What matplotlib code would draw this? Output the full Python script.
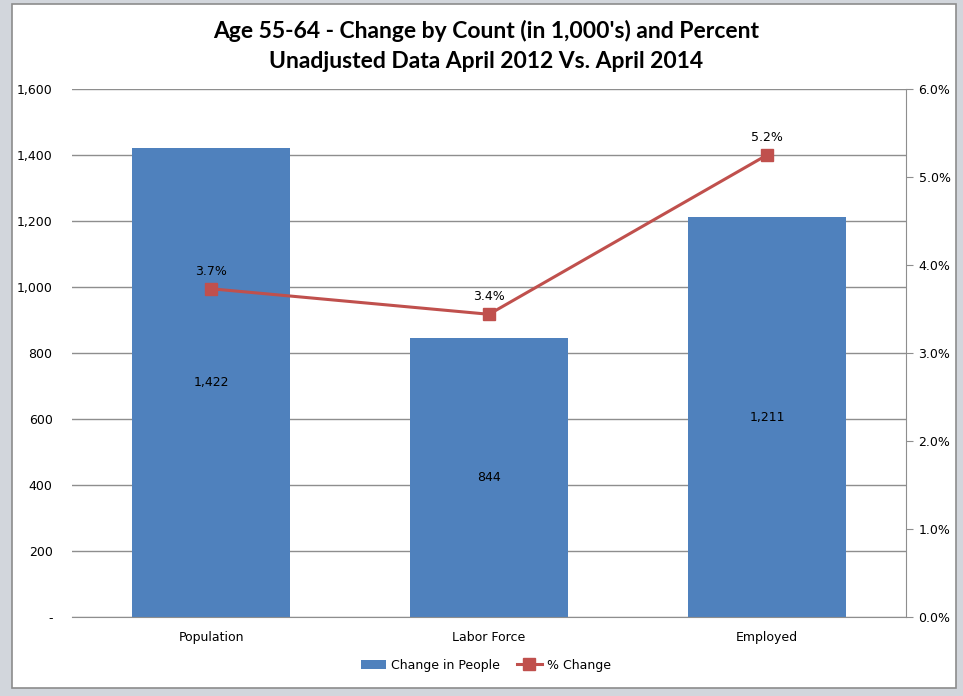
import matplotlib.pyplot as plt
from matplotlib.patches import Rectangle
from matplotlib.ticker import FuncFormatter, MultipleLocator
import numpy as np

categories = ["Population", "Labor Force", "Employed"]
change_people = [1422, 844, 1211]
pct_change = [3.73, 3.44, 5.25]
pct_labels = ["3.7%", "3.4%", "5.2%"]

blue = "#4F81BD"
red = "#C0504D"
grid = "#8E8E8E"

fig = plt.figure(figsize=(9.63, 6.96), dpi=100)
fig.patch.set_facecolor("#D2D6DC")
fig.patches.append(Rectangle((12/963, 1-688/696), (956-12)/963, (688-4)/696,
                             transform=fig.transFigure, facecolor="white",
                             edgecolor="#8C8C8C", lw=1.2, zorder=-5))

ax = fig.add_axes([72/963, 1-617/696, (906-72)/963, (617-89)/696])
ax.set_facecolor("none")
x = np.arange(len(categories))
bars = ax.bar(x, change_people, width=0.57, color=blue, zorder=2)
ax.set_xlim(-0.5, 2.5)
ax.set_ylim(0, 1600)
ax.yaxis.set_major_locator(MultipleLocator(200))
ax.yaxis.set_major_formatter(FuncFormatter(lambda v, p: "-" if v == 0 else f"{int(v):,}"))
ax.grid(axis="y", color=grid, lw=1, zorder=0)
ax.set_axisbelow(True)
for s in ["left", "top", "right"]:
    ax.spines[s].set_visible(False)
ax.spines["bottom"].set_color(grid)
ax.tick_params(axis="y", length=0, pad=14, labelsize=9)
ax.tick_params(axis="x", length=0, pad=10, labelsize=9)
ax.set_xticks(x)
ax.set_xticklabels(categories)
for b, v in zip(bars, change_people):
    ax.text(b.get_x() + b.get_width()/2, v/2, f"{v:,}", ha="center", va="center", fontsize=9)

ax2 = ax.twinx()
ax2.set_ylim(0, 6)
ax2.yaxis.set_major_locator(MultipleLocator(1))
ax2.yaxis.set_major_formatter(FuncFormatter(lambda v, p: f"{v:.1f}%"))
for s in ["left", "top", "bottom"]:
    ax2.spines[s].set_visible(False)
ax2.spines["right"].set_color(grid)
ax2.tick_params(axis="y", length=5, color=grid, pad=4, labelsize=9)
line, = ax2.plot(x, pct_change, color=red, lw=2.2, marker="s", markersize=8, zorder=3)
for xi, v, lab in zip(x, pct_change, pct_labels):
    ax2.annotate(lab, (xi, v), xytext=(0, 8), textcoords="offset points",
                 ha="center", va="bottom", fontsize=9)

title_font = ["Liberation Sans Narrow", "Lato", "DejaVu Sans"]
fig.text(486/963, 1-31/696, "Age 55-64 - Change by Count (in 1,000's) and Percent",
         ha="center", va="center", fontsize=16.5, fontweight="bold", family=title_font)
fig.text(486/963, 1-61/696, "Unadjusted Data April 2012 Vs. April 2014",
         ha="center", va="center", fontsize=16.5, fontweight="bold", family=title_font)

fig.legend([bars, line], ["Change in People", "% Change"], loc="center",
           bbox_to_anchor=(486/963, 1-665/696), ncol=2, frameon=False,
           fontsize=9, handlelength=2.0, columnspacing=1.3, handletextpad=0.4)

plt.savefig("out.png", dpi=100, facecolor=fig.get_facecolor())
